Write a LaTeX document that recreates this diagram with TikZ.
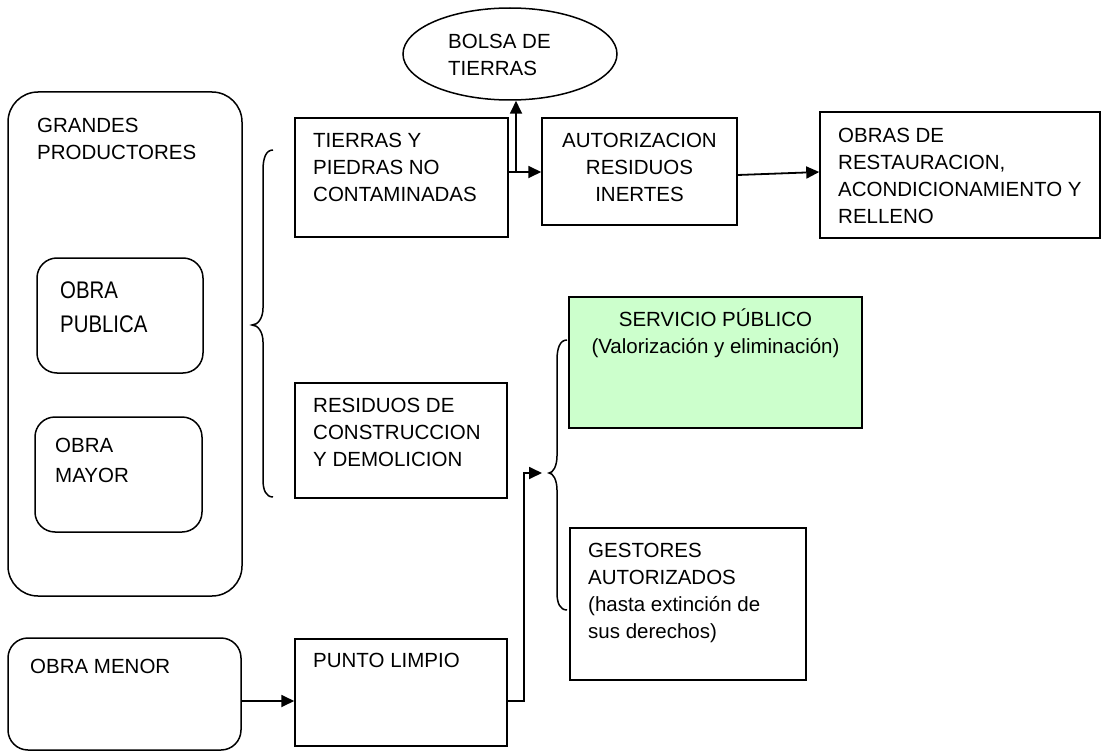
\documentclass[tikz,border=0pt]{standalone}
\usepackage{fontspec}
\setmainfont{Liberation Sans}
\newfontfamily\condfont{Liberation Sans}[FakeStretch=0.85]
\usetikzlibrary{arrows.meta,shapes.geometric,calc}
\definecolor{lightgreen}{HTML}{CCFFCC}
\begin{document}
\begin{tikzpicture}[x=1pt,y=-1pt,
  box/.style={draw, line width=1.5pt, rectangle, inner sep=0pt},
  rbox/.style={box, rounded corners=#1},
  txt/.style={inner sep=0pt, anchor=base west, align=left, font=\fontsize{20.5}{27}\selectfont},
  ctxt/.style={txt, anchor=base, align=center},
  conn/.style={line width=1.8pt},
  arr/.style={conn, -{Triangle[length=13pt,width=12pt]}},
  bracestyle/.style={line width=1.5pt}
]
\useasboundingbox (0,0) rectangle (1104,752);

% boxes
\node[rbox=30pt, minimum width=234pt, minimum height=504pt] (big) at (125,344) {};
\node[rbox=20pt, minimum width=166pt, minimum height=115pt] (pub) at (120,315.5) {};
\node[rbox=20pt, minimum width=167pt, minimum height=115pt] (may) at (118.5,474.5) {};
\node[rbox=20pt, minimum width=233pt, minimum height=112pt] (menor) at (124.5,694) {};
\node[box, minimum width=213pt, minimum height=119pt] (tierras) at (401.5,177.5) {};
\node[box, minimum width=195pt, minimum height=107pt] (aut) at (639.5,171.5) {};
\node[box, minimum width=280pt, minimum height=126pt] (obras) at (960,175) {};
\node[box, minimum width=212pt, minimum height=115pt] (rcd) at (401,440.5) {};
\node[box, fill=lightgreen, minimum width=293pt, minimum height=131pt] (serv) at (715.5,362.5) {};
\node[box, minimum width=236pt, minimum height=152pt] (gest) at (688,604) {};
\node[box, minimum width=212pt, minimum height=107pt] (punto) at (401,692.5) {};
\node[draw, line width=1.5pt, ellipse, inner sep=0pt, minimum width=214pt, minimum height=92pt] (bolsa) at (510,54) {};

% texts (anchored at the baseline of the last line)
\node[txt] (tbig) at (37,159) {GRANDES\\PRODUCTORES};
\node[txt, font=\condfont\fontsize{24}{34}\selectfont] (tpub) at (60,332) {OBRA\\PUBLICA};
\node[txt, font=\fontsize{20.5}{30}\selectfont] (tmay) at (55,482) {OBRA\\MAYOR};
\node[txt] (tmenor) at (30,673) {OBRA MENOR};
\node[txt] (ttierras) at (313,201) {TIERRAS Y\\PIEDRAS NO\\CONTAMINADAS};
\node[ctxt] (taut) at (639.5,201) {AUTORIZACION\\RESIDUOS\\INERTES};
\node[txt] (tobras) at (838,223) {OBRAS DE\\RESTAURACION,\\ACONDICIONAMIENTO Y\\RELLENO};
\node[txt] (tbolsa) at (448,76) {BOLSA DE\\TIERRAS};
\node[txt] (trcd) at (313,466) {RESIDUOS DE\\CONSTRUCCION\\Y DEMOLICION};
\node[ctxt] (tserv) at (715.5,353) {SERVICIO PÚBLICO\\(Valorización y eliminación)};
\node[txt] (tgest) at (588,638) {GESTORES\\AUTORIZADOS\\(hasta extinción de\\sus derechos)};
\node[txt] (tpunto) at (313,667) {PUNTO LIMPIO};

% connectors
\coordinate (j1) at (516,172);
\draw[arr] (tierras.east |- j1) -- (aut.west |- j1);
\draw[arr] (j1) -- (j1 |- bolsa.south);
\draw[arr] ([yshift=-3.5pt]aut.east) -- ([yshift=3pt]obras.west);
\coordinate (j2) at (524,701);
\coordinate (j3) at (542,473);
\draw[arr] (menor.east |- j2) -- (punto.west |- j2);
\draw[arr] (punto.east |- j2) -- (j2) |- (j3);

% braces
\draw[bracestyle] (273,150) .. controls (266,150) and (263,158) .. (263,170)
  -- (263,308) .. controls (263,318) and (258,325) .. (252,325)
  .. controls (258,325) and (263,332) .. (263,342)
  -- (263,480) .. controls (263,490) and (266,497) .. (273,497);
\draw[bracestyle] (567,340) .. controls (560,340) and (557,348) .. (557,360)
  -- (557,456) .. controls (557,466) and (553,473) .. (549,473)
  .. controls (553,473) and (557,480) .. (557,490)
  -- (557,593) .. controls (557,603) and (560,610) .. (567,610);
\end{tikzpicture}
\end{document}
